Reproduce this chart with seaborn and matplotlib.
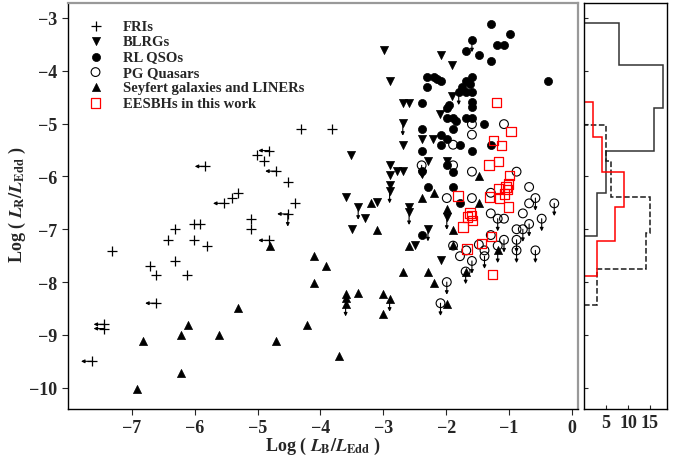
import matplotlib
matplotlib.use('Agg')
import matplotlib.pyplot as plt
import seaborn as sns
import numpy as np

# limit flags: 'l' = upper limit in L_B (left arrow), 'd' = upper limit in L_R (down arrow)

# FRIs
fri_x = [-4.31, -3.81, -4.82, -5.01, -4.90, -5.83, -4.71, -4.51, -5.31, -5.41,
         -5.54, -4.40, -5.11, -4.52, -5.11, -6.32, -6.02, -5.91, -6.43, -6.02,
         -5.81, -4.82, -7.32, -6.72, -6.32, -6.61, -6.13, -6.62, -7.44, -7.44, -7.64]
fri_y = [-5.11, -5.11, -5.51, -5.60, -5.71, -5.81, -5.90, -6.11, -6.31, -6.41,
         -6.51, -6.50, -6.80, -6.71, -7.00, -7.00, -6.90, -6.90, -7.21, -7.21,
         -7.31, -7.21, -7.42, -7.70, -7.61, -7.87, -7.87, -8.40, -8.80, -8.88, -9.50]
fri_lim = ['', '', 'l', '', '', 'l', 'l', '', '', '',
           'l', '', '', 'ld', '', '', '', '', '', '',
           '', 'l', '', '', '', '', '', 'l', 'l', 'l', 'l']

# BLRGs
blrg_x = [-2.99, -2.09, -1.90, -2.90, -2.69, -2.59, -1.90, -2.10, -2.69, -2.69,
          -2.39, -2.21, -3.51, -2.29, -1.99, -2.90, -2.79, -2.69, -2.90, -2.90,
          -2.90, -3.60, -3.10, -3.40, -3.29, -3.50, -2.59, -2.59, -1.99, -2.29,
          -2.49, -2.09, -2.39]
blrg_y = [-3.61, -3.70, -3.90, -4.20, -4.61, -4.61, -4.48, -4.82, -4.99, -5.40,
          -5.30, -5.30, -5.59, -5.70, -5.70, -5.79, -5.89, -5.89, -5.98, -6.17,
          -6.27, -6.39, -6.49, -6.58, -6.79, -6.99, -6.58, -6.68, -6.77, -6.99,
          -7.29, -7.59, -5.95]
blrg_lim = ['', '', '', '', '', '', '', '', 'd', '',
            '', '', '', '', '', '', '', '', '', '',
            'd', '', '', 'd', '', '', '', 'd', 'd', 'd',
            '', '', '']

# RL QSOs
rlq_x = [-1.29, -0.99, -1.19, -1.08, -1.59, -1.69, -1.48, -1.29,
         -0.38, -2.30, -2.20, -2.30, -2.09, -1.59, -1.69, -1.59, -1.69, -1.80,
         -1.59, -1.59, -2.39, -1.75, -2.15, -1.62, -1.95,
         -1.99, -1.99, -1.89, -1.69, -1.59, -1.39, -2.39, -1.89, -2.09, -2.09,
         -1.99, -1.78, -1.59, -1.29, -2.39, -1.84,
         -1.99, -1.89, -2.39, -2.29, -1.89, -1.78, -2.39]
rlq_y = [-3.11, -3.31, -3.51, -3.51, -3.41, -3.62, -3.71, -3.81,
         -4.20, -4.11, -4.11, -4.31, -4.20, -4.11, -4.20, -4.41, -4.41, -4.41,
         -4.60, -4.69, -4.61, -4.30, -4.15, -4.25, -4.65,
         -4.71, -4.90, -4.90, -4.90, -4.90, -5.01, -5.10, -5.10, -5.21, -5.40,
         -5.30, -5.40, -5.51, -5.40, -5.51, -4.95,
         -5.79, -5.91, -5.89, -6.20, -6.20, -6.51, -7.11]
rlq_lim = ['', '', '', '', 'd', '', '', '',
           '', '', '', '', '', '', '', '', '', 'd',
           '', '', '', '', '', '', '',
           '', '', '', '', '', '', '', '', '', '',
           '', '', '', '', '', '',
           '', '', '', '', '', '', '']

# PG quasars
pg_x = [-1.59, -1.08, -1.59, -1.89, -2.39, -1.89, -1.59, -0.88,
        -1.99, -1.59, -1.29, -0.68, -0.58, -0.68, -0.28, -1.29, -1.18, -1.08,
        -0.78, -0.48, -0.88, -0.68, -0.78, -1.29, -1.08, -0.88, -0.88, -0.58,
        -1.48, -1.39, -1.39, -1.78, -1.68, -1.59, -1.69, -1.89, -1.99, -2.09, -1.18]
pg_y = [-5.01, -5.01, -5.21, -5.40, -5.79, -5.79, -5.91, -5.91,
        -6.41, -6.41, -6.31, -6.20, -6.41, -6.51, -6.51, -6.70, -6.80, -6.80,
        -6.70, -6.80, -7.00, -6.90, -7.00, -7.11, -7.20, -7.20, -7.40, -7.40,
        -7.29, -7.40, -7.51, -7.51, -7.40, -7.60, -7.80, -7.31, -8.00, -8.40, -7.31]
pg_lim = ['', '', '', '', 'd', '', '', '',
          '', '', '', '', 'd', '', 'd', '', 'd', '',
          '', 'd', '', 'd', 'd', '', 'd', 'd', 'd', 'd',
          '', '', 'd', '', '', 'd', 'd', '', 'd', 'd', '']

# Seyfert galaxies and LINERs
sey_x = [-4.80, -4.10, -3.91, -4.10, -3.60, -3.60, -3.60, -3.40, -5.31, -6.11,
         -6.22, -5.61, -6.82, -4.71, -4.21, -3.70, -6.22, -6.92, -1.48, -2.19,
         -2.39, -1.48, -1.99, -1.89, -1.89, -2.59, -3.10, -3.20, -2.69, -2.29,
         -2.19, -3.00, -2.90, -3.00, -1.99, -1.69, -1.18]
sey_y = [-7.31, -7.51, -7.70, -8.01, -8.22, -8.31, -8.41, -8.21, -8.50, -8.81,
         -9.01, -9.01, -9.12, -9.12, -8.81, -9.40, -9.72, -10.02, -5.99, -6.31,
         -6.41, -6.51, -6.61, -7.01, -7.29, -7.31, -7.01, -6.51, -7.81, -7.81,
         -8.01, -8.22, -8.32, -8.61, -8.41, -7.81, -7.40]
sey_lim = ['', '', '', '', '', '', 'd', '', '', '',
           '', '', '', '', '', '', '', '', '', '',
           '', '', '', '', '', '', '', '', '', '',
           '', '', 'd', '', '', '', 'd']

# EESBHs in this work
ees_x = [-1.20, -0.97, -1.25, -1.12, -1.32, -1.17, -0.99, -1.01, -1.16, -1.02,
         -1.81, -1.31, -1.15, -1.07, -1.05, -1.01, -1.62, -1.66, -1.58, -1.60,
         -1.73, -1.28, -1.44, -1.67, -1.26]
ees_y = [-4.60, -5.15, -5.32, -5.42, -5.78, -5.72, -5.98, -6.14, -6.24, -6.25,
         -6.37, -6.39, -6.41, -6.33, -6.20, -6.58, -6.69, -6.77, -6.83, -6.74,
         -6.96, -7.14, -7.27, -7.37, -7.86]

# side histograms of log(L_R/L_Edd): bin edges and counts
rlq_edges = [-7.13, -6.32, -5.52, -4.70, -3.90, -3.10]
rlq_counts = [3, 5, 16, 18, 8]
pg_edges = [-8.43, -7.75, -7.07, -6.39, -5.70, -5.02]
pg_counts = [3, 14, 15, 6, 5]
ees_edges = [-7.89, -7.23, -6.57, -5.92, -5.26, -4.60]
ees_counts = [3, 7, 9, 4, 2]

sns.set_style('ticks')
plt.rcParams['font.family'] = ['Liberation Serif', 'DejaVu Serif']
plt.rcParams['font.weight'] = 'bold'
plt.rcParams['mathtext.fontset'] = 'stix'

fig = plt.figure(figsize=(6.85, 4.6), dpi=100)
ax = fig.add_axes([0.099, 0.109, 0.745, 0.882])
axh = fig.add_axes([0.853, 0.109, 0.120, 0.882], sharey=ax)


def draw_limits(xs, ys, lims, color='k'):
    for x, y, f in zip(xs, ys, lims):
        if 'd' in f:
            ax.annotate('', xy=(x, y - 0.24), xytext=(x, y),
                        arrowprops=dict(arrowstyle='-|>', color=color, lw=0.8,
                                        mutation_scale=5, shrinkA=0, shrinkB=0))
        if 'l' in f:
            ax.annotate('', xy=(x - 0.17, y), xytext=(x, y),
                        arrowprops=dict(arrowstyle='-|>', color=color, lw=0.8,
                                        mutation_scale=5, shrinkA=0, shrinkB=0))


sns.scatterplot(x=fri_x, y=fri_y, marker='+', color='k', s=55, linewidth=0.9,
                label='FRIs', ax=ax, zorder=3)
sns.scatterplot(x=blrg_x, y=blrg_y, marker='v', color='k', edgecolor='k', s=34,
                linewidth=0.5, label='BLRGs', ax=ax, zorder=3)
sns.scatterplot(x=rlq_x, y=rlq_y, marker='o', color='k', edgecolor='k', s=34,
                linewidth=0.5, label='RL QSOs', ax=ax, zorder=3)
sns.scatterplot(x=pg_x, y=pg_y, marker='o', facecolor='none', edgecolor='k', s=40,
                linewidth=0.8, label='PG Quasars', ax=ax, zorder=3)
sns.scatterplot(x=sey_x, y=sey_y, marker='^', color='k', edgecolor='k', s=34,
                linewidth=0.5, label='Seyfert galaxies and LINERs', ax=ax, zorder=3)
sns.scatterplot(x=ees_x, y=ees_y, marker='s', facecolor='none', edgecolor='red', s=46,
                linewidth=0.9, label='EESBHs in this work', ax=ax, zorder=4)

draw_limits(fri_x, fri_y, fri_lim)
draw_limits(blrg_x, blrg_y, blrg_lim)
draw_limits(rlq_x, rlq_y, rlq_lim)
draw_limits(pg_x, pg_y, pg_lim)
draw_limits(sey_x, sey_y, sey_lim)

ax.set_xlim(-8.02, 0.1)
ax.set_ylim(-10.4, -2.72)
ax.set_xticks(range(-7, 1))
ax.set_yticks(range(-10, -2))
ax.tick_params(axis='both', direction='out', labelsize=13, length=4, width=0.8)
for lab in ax.get_xticklabels() + ax.get_yticklabels():
    lab.set_fontweight('bold')
ax.set_xlabel(r'Log ( $\mathit{L}_{\mathbf{B}}/\mathit{L}_{\mathbf{Edd}}$ )',
              fontsize=13, fontweight='bold')
ax.set_ylabel(r'Log ( $\mathit{L}_{\mathbf{R}}/\mathit{L}_{\mathbf{Edd}}$ )',
              fontsize=13, fontweight='bold')
ax.xaxis.set_label_coords(0.5, -0.064)
ax.yaxis.set_label_coords(-0.078, 0.505)
for side in ['left', 'bottom']:
    ax.spines[side].set_color('k')
    ax.spines[side].set_linewidth(1.0)
for side in ['top', 'right']:
    ax.spines[side].set_visible(True)
    ax.spines[side].set_color('0.6')
    ax.spines[side].set_linewidth(1.6)

leg = ax.legend(loc='upper left', frameon=False, prop={'size': 10.5, 'weight': 'bold'},
                labelspacing=0.15, handletextpad=0.85, borderaxespad=0.5,
                bbox_to_anchor=(0.0, 0.992))

# side histograms
axh.hist(np.convolve(rlq_edges, [0.5, 0.5], 'valid'), bins=rlq_edges, weights=rlq_counts,
         histtype='step', orientation='horizontal', color='0.2', lw=1.1)
axh.hist(np.convolve(pg_edges, [0.5, 0.5], 'valid'), bins=pg_edges, weights=pg_counts,
         histtype='step', orientation='horizontal', color='0.1', lw=1.1, ls='--')
axh.hist(np.convolve(ees_edges, [0.5, 0.5], 'valid'), bins=ees_edges, weights=ees_counts,
         histtype='step', orientation='horizontal', color='red', lw=1.1)
axh.set_xlim(0, 18.8)
axh.set_xticks([5, 10, 15])
axh.tick_params(axis='both', direction='in', labelsize=13, length=3, width=0.8)
axh.tick_params(axis='y', labelleft=False)
for lab in axh.get_xticklabels():
    lab.set_fontweight('bold')
for side in ['left', 'bottom', 'top', 'right']:
    axh.spines[side].set_visible(True)
    axh.spines[side].set_color('k')
    axh.spines[side].set_linewidth(1.0)

fig.savefig('out.png', dpi=100)
